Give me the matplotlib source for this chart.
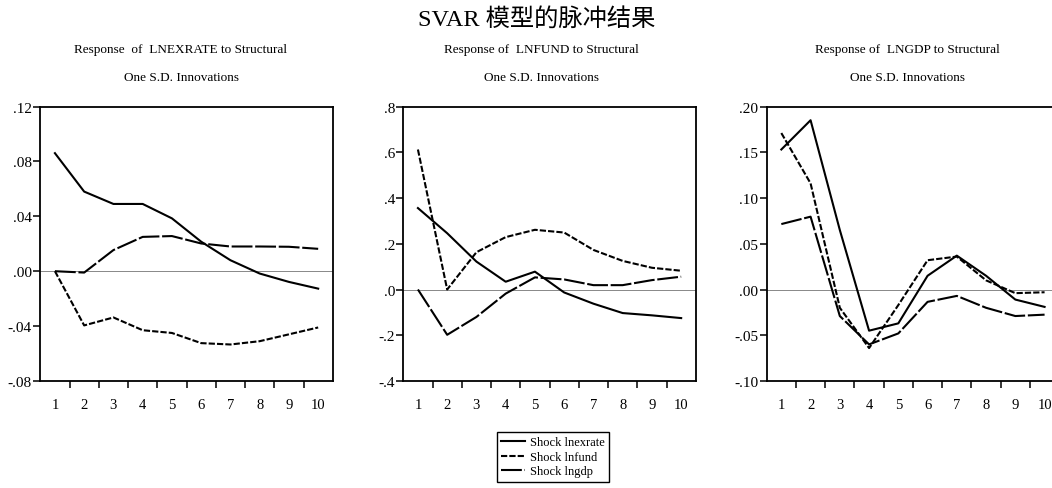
import matplotlib.pyplot as plt
from matplotlib.ticker import FixedLocator, FuncFormatter

plt.rcParams['font.family'] = ['Liberation Serif', 'Noto Sans CJK SC', 'DejaVu Sans']

periods = [1, 2, 3, 4, 5, 6, 7, 8, 9, 10]
shock_names = ['Shock lnexrate', 'Shock lnfund', 'Shock lngdp']

# Response of LNEXRATE
exr_exr = [0.086, 0.058, 0.049, 0.049, 0.0385, 0.0215, 0.008, -0.0017, -0.0078, -0.0127]
exr_fund = [0.0, -0.0395, -0.0337, -0.043, -0.045, -0.0524, -0.0534, -0.051, -0.046, -0.041]
exr_gdp = [0.0, -0.001, 0.0154, 0.025, 0.0256, 0.0202, 0.018, 0.018, 0.0178, 0.0163]

# Response of LNFUND
fund_exr = [0.356, 0.246, 0.122, 0.034, 0.078, -0.013, -0.062, -0.103, -0.113, -0.125]
fund_fund = [0.612, 0.0, 0.163, 0.229, 0.261, 0.249, 0.173, 0.125, 0.095, 0.082]
fund_gdp = [0.0, -0.198, -0.12, -0.018, 0.053, 0.044, 0.019, 0.019, 0.041, 0.056]

# Response of LNGDP
gdp_exr = [0.153, 0.185, 0.065, -0.045, -0.037, 0.015, 0.037, 0.015, -0.011, -0.019]
gdp_fund = [0.171, 0.116, -0.02, -0.064, -0.017, 0.032, 0.036, 0.01, -0.004, -0.003]
gdp_gdp = [0.0715, 0.0796, -0.029, -0.06, -0.048, -0.0135, -0.007, -0.02, -0.029, -0.0275]

panels = [
    ('Response  of  LNEXRATE to Structural', [exr_exr, exr_fund, exr_gdp],
     [-0.08, -0.04, 0.0, 0.04, 0.08, 0.12], 2),
    ('Response of  LNFUND to Structural', [fund_exr, fund_fund, fund_gdp],
     [-0.4, -0.2, 0.0, 0.2, 0.4, 0.6, 0.8], 1),
    ('Response of  LNGDP to Structural', [gdp_exr, gdp_fund, gdp_gdp],
     [-0.10, -0.05, 0.0, 0.05, 0.10, 0.15, 0.20], 2),
]

styles = ['-', (0, (3, 1)), (0, (10, 1.3))]

W, H = 1052, 489
fig = plt.figure(figsize=(W / 100, H / 100), dpi=100)

lefts = [40.3, 403.3, 766.7]
title_x = [181, 541, 907]
ax_w, ax_top, ax_bot = 292.5, 107.5, 382

fig.text(537 / W, 1 - 19 / H, 'SVAR 模型的脉冲结果', ha='center', va='center', fontsize=17.5)

handles = []
for i, (title, series, yticks, dec) in enumerate(panels):
    ax = fig.add_axes([lefts[i] / W, 1 - ax_bot / H, ax_w / W, (ax_bot - ax_top) / H])
    ax.axhline(0, color='#888888', lw=0.7, zorder=1)
    for vals, ls in zip(series, styles):
        ln, = ax.plot(periods, vals, color='black', lw=1.5, ls=ls, zorder=3)
        if i == 0:
            handles.append(ln)
    ax.set_xlim(0.5, 10.5)
    ax.set_ylim(yticks[0], yticks[-1])
    ax.set_yticks(yticks)
    fmt = '{:.%df}' % dec
    ax.yaxis.set_major_formatter(FuncFormatter(
        lambda v, p, f=fmt: f.format(v).replace('0.', '.')))
    ax.set_xticks(periods)
    ax.set_xticklabels([str(p) for p in periods])
    ax.xaxis.set_minor_locator(FixedLocator([p + 0.5 for p in range(1, 10)]))
    ax.tick_params(axis='x', which='major', length=0, pad=12, labelsize=10.5)
    ax.tick_params(axis='x', which='minor', length=5, width=1.1, direction='out')
    ax.tick_params(axis='y', which='major', length=5, width=1.1, direction='out',
                   labelsize=11, pad=1)
    for sp in ax.spines.values():
        sp.set_linewidth(1.3)
    fig.text(title_x[i] / W, 1 - 50 / H, title, ha='center', va='center', fontsize=9.5)
    fig.text(title_x[i] / W, 1 - 78 / H, 'One S.D. Innovations', ha='center', va='center',
             fontsize=9.5)

leg = fig.legend(handles, shock_names, loc='upper left',
                 bbox_to_anchor=(497 / W, 1 - 433 / H), fontsize=9,
                 frameon=True, fancybox=False, edgecolor='black', framealpha=1,
                 handlelength=1.9, handletextpad=0.35, labelspacing=0.2,
                 borderpad=0.35, borderaxespad=0)
leg.get_frame().set_linewidth(1.0)

fig.savefig('out.png', dpi=100)
